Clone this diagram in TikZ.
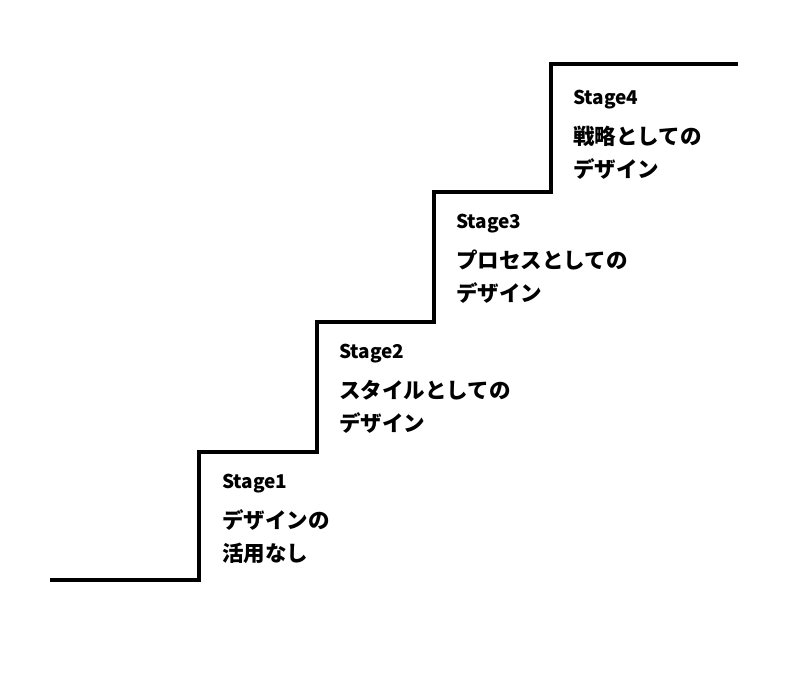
\documentclass[tikz,border=0pt]{standalone}
\usepackage{fontspec}
\usetikzlibrary{positioning}
\newfontfamily\jpfont{Noto Sans CJK JP}
\tikzset{
  stair/.style={line width=4pt,line join=miter},
  stagelabel/.style={font=\jpfont\bfseries\fontsize{19}{22}\selectfont,anchor=west,inner sep=0pt},
  stagetext/.style={font=\jpfont\bfseries\fontsize{21.5}{33}\selectfont,anchor=north west,align=left,inner sep=0pt}
}
\begin{document}
\begin{tikzpicture}[x=1pt,y=-1pt]
  \useasboundingbox (0,0) rectangle (800,673);
  % staircase
  \draw[stair] (50,580) -- (199,580) -- (199,452) -- (317,452) -- (317,322)
    -- (434,322) -- (434,192) -- (551,192) -- (551,64) -- (738,64);
  % stage labels
  \node[stagelabel] (st1) at (222,484) {Stage1};
  \node[stagetext,below=16pt of st1.south west,anchor=north west] (tx1) {デザインの\\活用なし};
  \node[stagelabel] (st2) at (339,354) {Stage2};
  \node[stagetext,below=16pt of st2.south west,anchor=north west] (tx2) {スタイルとしての\\デザイン};
  \node[stagelabel] (st3) at (456,224) {Stage3};
  \node[stagetext,below=16pt of st3.south west,anchor=north west] (tx3) {プロセスとしての\\デザイン};
  \node[stagelabel] (st4) at (573,100) {Stage4};
  \node[stagetext,below=16pt of st4.south west,anchor=north west] (tx4) {戦略としての\\デザイン};
\end{tikzpicture}
\end{document}
